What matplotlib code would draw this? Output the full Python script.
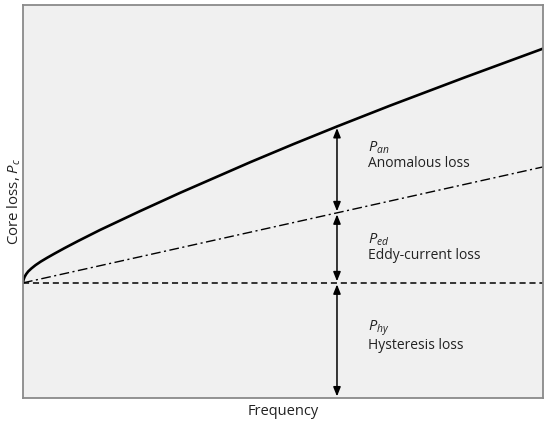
import matplotlib
matplotlib.use("Agg")
import matplotlib.pyplot as plt

plt.rcParams['font.family'] = ['Open Sans', 'DejaVu Sans']
plt.rcParams['mathtext.fontset'] = 'custom'
plt.rcParams['mathtext.it'] = 'Open Sans:italic'
plt.rcParams['mathtext.rm'] = 'Open Sans'

# Data (arbitrary units)
freq_total = [0, 0.1, 0.3, 0.6, 1.0, 1.6, 2.4, 3.4, 4.6, 6.0, 8.0, 10.6, 14.8,
              22.5, 30.2, 43.7, 52.0, 60.4, 70.6, 85.0, 100]
loss_total = [29.3, 30.05, 30.8, 31.5, 32.2, 32.95, 33.8, 34.7, 35.65, 36.7, 38.15,
              39.95, 42.75, 47.55, 52.2, 60.0, 64.6, 69.1, 74.4, 81.6, 88.9]
freq_eddy = [0, 100]
loss_eddy = [29.3, 58.8]
freq_hyst = [0, 100]
loss_hyst = [29.3, 29.3]

arrow_f = 60.4
symbols = ["$P_{an}$", "$P_{ed}$", "$P_{hy}$"]
names = ["Anomalous loss", "Eddy-current loss", "Hysteresis loss"]

fig = plt.figure(figsize=(5.5, 4.22), dpi=100)
ax = fig.add_axes([0.0418, 0.0569, 0.9452, 0.9311])
ax.set_facecolor('#f0f0f0')
for s in ax.spines.values():
    s.set_color('#8a8a8a')
    s.set_linewidth(1.3)

ax.plot(freq_total, loss_total, color='black', lw=1.9, solid_capstyle='round',
        solid_joinstyle='round')
ax.plot(freq_eddy, loss_eddy, color='black', lw=1.0, linestyle=(0, (7, 2.5, 1.5, 2.5)))
ax.plot(freq_hyst, loss_hyst, color='black', lw=1.1, linestyle=(0, (4, 2.5)))

ax.set_xlim(0, 100)
ax.set_ylim(0, 100)
ax.set_xticks([])
ax.set_yticks([])

# values at the arrow position
def interp(xs, ys, x):
    for i in range(len(xs) - 1):
        if xs[i] <= x <= xs[i + 1]:
            t = (x - xs[i]) / (xs[i + 1] - xs[i])
            return ys[i] + t * (ys[i + 1] - ys[i])
    return ys[-1]

y_tot = interp(freq_total, loss_total, arrow_f)
y_ed = interp(freq_eddy, loss_eddy, arrow_f)
y_hy = interp(freq_hyst, loss_hyst, arrow_f)
segments = [(y_tot, y_ed), (y_ed, y_hy), (y_hy, 0)]

for top, bot in segments:
    ax.annotate('', xy=(arrow_f, bot + 0.4), xytext=(arrow_f, top - 0.4),
                arrowprops=dict(arrowstyle='<|-|>,head_length=0.55,head_width=0.22',
                                color='black', lw=1.1, shrinkA=0, shrinkB=0))

# label positions (axes fraction)
sym_y = [0.636, 0.402, 0.178]
name_y = [0.596, 0.362, 0.133]
for sym, name, sy, ny in zip(symbols, names, sym_y, name_y):
    ax.text(0.663, sy, sym, transform=ax.transAxes, fontsize=10.5,
            color='#222222', va='center', ha='left')
    ax.text(0.663, ny, name, transform=ax.transAxes, fontsize=10,
            color='#222222', va='center', ha='left')

ax.set_xlabel('Frequency', fontsize=10.5, color='#222222', labelpad=4)
ax.set_ylabel('Core loss, $P_c$', fontsize=10.8, color='#222222', labelpad=0)

fig.savefig('out.png', dpi=100, facecolor='white')
